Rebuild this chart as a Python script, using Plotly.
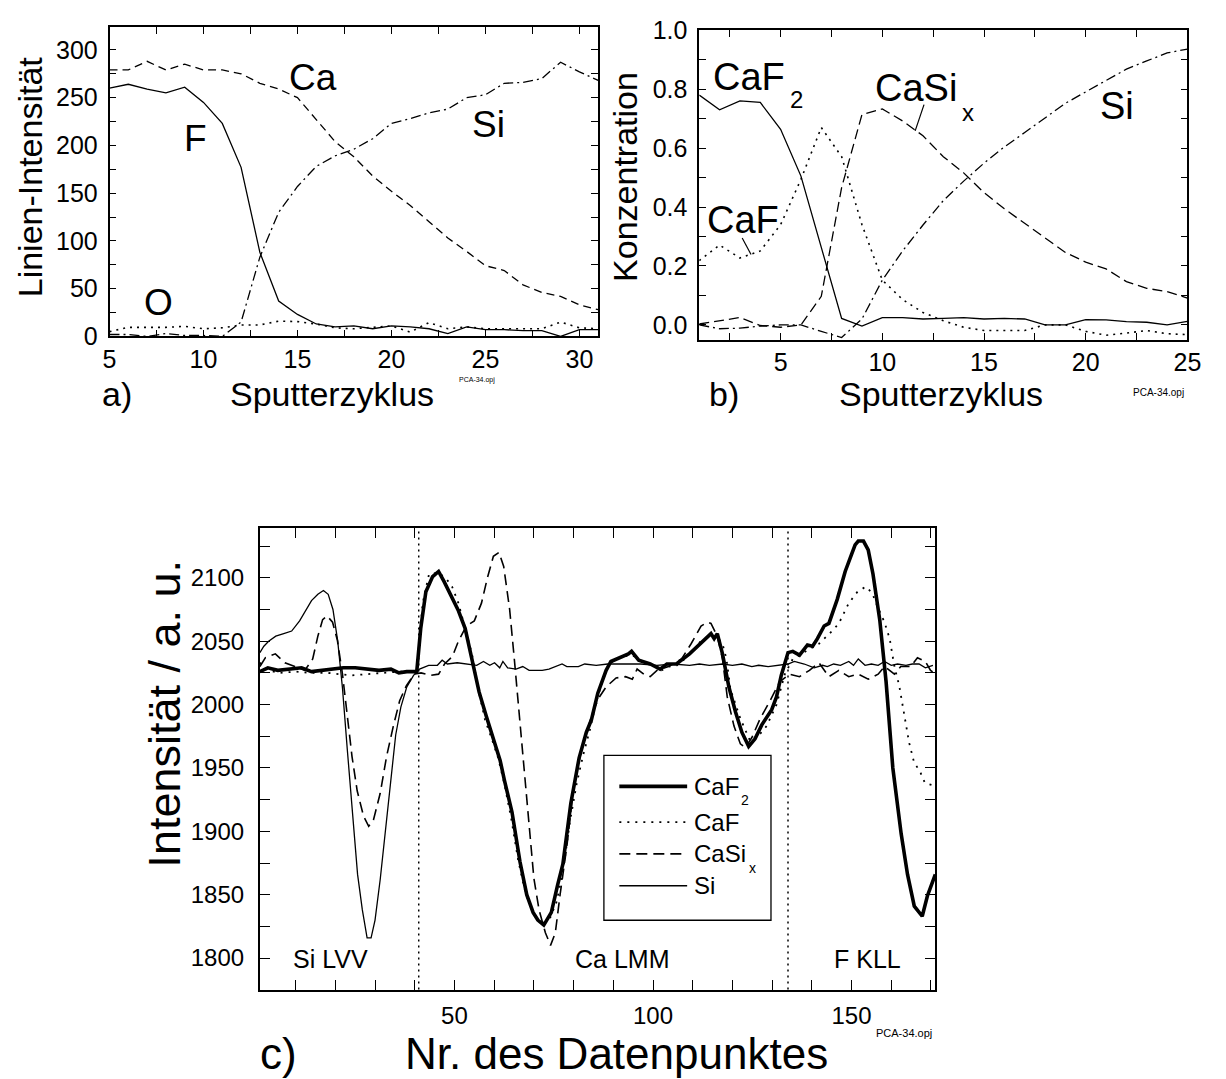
import plotly.graph_objects as go

W, H = 1226, 1079
FONT = "Liberation Sans, Arial, sans-serif"

# ---------------- panel a data ----------------
cycles_a = list(range(5, 32))
a_F = [260, 264, 259, 255, 261, 245, 223, 177, 88, 37, 23, 13, 10, 11, 8, 11, 10, 8, 3, 10, 7, 7, 6, 6, 0, 7, 7]
a_Ca = [279, 279, 288, 279, 285, 279, 279, 275, 265, 259, 250, 227, 204, 188, 168, 152, 137, 120, 103, 89, 74, 69, 54, 46, 42, 33, 28]
a_Si = [2, 2, 0, 3, 1, 1, 0, 15, 83, 130, 157, 178, 189, 196, 207, 223, 228, 234, 238, 250, 253, 265, 266, 270, 287, 277, 268]
a_O = [5, 9.5, 9.5, 9.5, 10.5, 8, 9, 12, 12, 16, 15.5, 13, 9, 8, 9.5, 11, 4.5, 14.5, 8, 10, 8, 8, 8, 8, 15, 9, 8]

# ---------------- panel b data ----------------
cycles_b = list(range(1, 26))
b_CaF2 = [0.78, 0.73, 0.76, 0.755, 0.664, 0.505, 0.263, 0.022, -0.004, 0.025, 0.025, 0.02, 0.022,
          0.025, 0.02, 0.022, 0.02, 0.0, 0.0, 0.018, 0.017, 0.011, 0.009, 0.0, 0.012]
b_CaF = [0.218, 0.271, 0.227, 0.251, 0.34, 0.494, 0.67, 0.571, 0.34, 0.152, 0.086, 0.042, 0.014,
         -0.008, -0.019, -0.019, -0.019, 0.0, 0.0, -0.022, -0.035, -0.028, -0.019, -0.03, -0.033]
b_CaSix = [0.003, 0.014, 0.025, -0.002, -0.008, 0.0, 0.097, 0.466, 0.714, 0.733, 0.692, 0.642, 0.571,
           0.516, 0.449, 0.394, 0.345, 0.295, 0.246, 0.213, 0.19, 0.147, 0.124, 0.113, 0.091]
b_Si = [0.0, -0.013, -0.011, -0.004, 0.0, 0.0, -0.022, -0.043, 0.02, 0.152, 0.251, 0.339, 0.422,
        0.488, 0.549, 0.604, 0.653, 0.703, 0.752, 0.791, 0.829, 0.868, 0.896, 0.923, 0.936]

# ---------------- panel c data ----------------
c_CaF2_x = [1, 3, 5.5, 8, 11.5, 14, 16.5, 20, 22, 25, 28, 31, 34, 36, 38, 40.5,
            41.5, 42.8, 44.5, 46, 47.4, 49.4, 51, 52.7, 54.4, 56.2, 58, 59.8, 61.5, 62.6, 64.5,
            66.5, 68.2, 69.8, 71, 72.5, 74.4, 76, 77.3, 79.3, 81.4, 83.2, 84.5, 86.1, 88.2, 89.4,
            91.9, 93.8, 94.6, 96.4, 99.3, 101.8, 103.5, 105.9, 109.2, 111.7, 113.4, 114.6, 115.4,
            116.2, 117.5, 119.1, 120.8, 122.4, 124.1, 125.7, 127.4, 129.9, 131.1, 132.3, 134,
            135.2, 136.9, 138.9, 140.2, 141.4, 143.1, 144.3, 146.4, 148.4, 149.7, 150.9, 151.7,
            153, 154.2, 155.4, 157.1, 158.7, 160.4, 162.5, 164.1, 165.8, 167.8, 169.1, 171.1]
c_CaF2_y = [2026, 2029, 2027, 2028, 2029, 2026, 2027, 2028, 2029, 2029, 2028, 2027, 2028, 2025, 2026, 2026,
            2060, 2089, 2101, 2105, 2097, 2085, 2074, 2060, 2036, 2010, 1991, 1974, 1956, 1940, 1915,
            1876, 1850, 1836, 1830, 1826, 1836, 1858, 1874, 1922, 1958, 1978, 1988, 2009, 2027, 2034,
            2037, 2040, 2042, 2035, 2032, 2028, 2032, 2032, 2040, 2047, 2052, 2056, 2052,
            2056, 2040, 2014, 1994, 1978, 1967, 1973, 1984, 1996, 2006, 2023, 2041,
            2042, 2039, 2047, 2046, 2052, 2062, 2064, 2083, 2105, 2116, 2126, 2129,
            2129, 2122, 2103, 2067, 2018, 1950, 1898, 1866, 1841, 1833, 1849, 1866]

c_CaF_x = [1, 3, 6, 10, 14, 18, 21, 24, 28, 32, 36, 40.5,
           42, 43.6, 46, 48, 49.4, 51, 52.5, 54.4, 56, 57.7, 59.5, 61, 62.6, 64.3, 66, 67.6, 69.2,
           70.9, 72.5, 74, 75.8, 77.5, 79.1, 80.8, 82.4, 84.1, 85.7, 87.4, 89, 90.7, 92.3, 94.8,
           97.3, 99.7, 102.2, 104, 106, 108, 110.5, 112, 114, 116, 117.5, 118.5, 119.5, 122,
           124.5, 127, 128.6, 131.1, 133.2, 135.2, 138.5, 141.8, 145.1, 146.8, 149.3, 151.5,
           153.6, 155.2, 156.7, 158.3, 159.6, 160.8, 162, 163.3, 164.5, 165.7, 167.4, 168.5, 170.8]
c_CaF_y = [2033, 2027, 2025, 2026, 2025, 2025, 2024, 2023, 2024, 2025, 2026, 2026,
           2080, 2103, 2104, 2099, 2093, 2080, 2062, 2040, 2012, 1988, 1972, 1958, 1937, 1910, 1878, 1855, 1840,
           1830, 1828, 1831, 1845, 1872, 1908, 1938, 1960, 1980, 2002, 2020, 2032, 2036, 2038, 2039,
           2034, 2031, 2027, 2030, 2031, 2036, 2044, 2050, 2054, 2054, 2048, 2036, 2012, 1989,
           1971, 1977, 1983, 2000, 2024, 2036, 2042, 2048, 2058, 2064, 2080, 2089,
           2093, 2088, 2076, 2065, 2052, 2030, 2015, 1990, 1970, 1955, 1946, 1938, 1936]

c_CaSix_x = [1, 2.4, 4.9, 7.3, 9.8, 12.3, 14.3, 15.6, 16.8, 17.9, 19.3, 20.5, 21.8, 23, 24.2, 25.5,
             27.1, 28.4, 29.6, 31.3, 32.9, 34.6, 36.2, 37.9, 39.9, 41.6, 44, 46, 47.5, 49.5, 51, 53,
             55, 56.8, 58.3, 59.8, 61.2, 62.4, 63.9, 65.1, 66.3, 67.6, 68.8, 70, 71.3, 72.9, 74.2,
             75.4, 76.6, 78.3, 79.9, 81.6, 83.2, 84.9, 86.5, 88.2, 90.7, 93.1, 94.8, 96, 97.7, 99.3,
             101, 103.9, 107.2, 109.6, 112.1, 113.8, 114.6, 116.2, 117.5, 118.7, 120.4, 122, 123.3,
             124.9, 127, 129.5, 131.9, 134.4, 136.9, 139.4, 141.8, 144.3, 146.8, 149.3, 151.7,
             154.2, 156.7, 158.3, 160.8, 162.4, 164.9, 166.6, 168.6, 169.9, 171.1]
c_CaSix_y = [2030, 2037, 2040, 2033, 2030, 2027, 2036, 2054, 2067, 2070, 2065, 2051, 2024, 1992, 1959, 1932,
             1912, 1904, 1909, 1930, 1959, 1983, 2003, 2015, 2024, 2025, 2023, 2024, 2032, 2038, 2050, 2062,
             2066, 2080, 2100, 2117, 2120, 2109, 2075, 2035, 1993, 1946, 1901, 1863, 1838, 1820, 1810,
             1820, 1850, 1888, 1932, 1959, 1977, 1995, 2006, 2014, 2021, 2022, 2020, 2028, 2024, 2022,
             2027, 2030, 2036, 2048, 2062, 2065, 2064, 2054, 2036, 2006, 1983, 1969, 1966,
             1974, 1989, 2003, 2018, 2024, 2022, 2027, 2033, 2022, 2027, 2022, 2024,
             2020, 2024, 2030, 2024, 2030, 2030, 2037, 2034, 2027, 2024]

c_Si_x = [1, 2, 3.2, 5, 7, 9, 11, 12.5, 14, 15.6, 17, 18.2, 19.4, 20.6, 21.8, 23, 24.3, 25.6, 26.8,
          28, 29, 30, 31.3, 32.7, 34, 35.2, 36.5, 38, 39.7, 41.2, 43.5, 45.7, 46.9, 48.2, 50.7, 53.1,
          55.6, 57.3, 58.9, 60.1, 61.4, 62.2, 63.4, 65.5, 67.2, 68.8, 72.1, 73.8, 76.2, 77.1, 78.3,
          81.2, 82.8, 85.7, 88.6, 92.7, 96.9, 101, 105.1, 109.2, 111.7, 114.2, 117.5, 120, 122.4,
          124.9, 126.6, 129, 131.5, 134, 135.6, 138.1, 140.6, 142.7, 143.9, 145.5, 147.2, 149.3,
          150.5, 151.7, 153.4, 155, 156.7, 158.3, 160, 161.6, 163.7, 165.3, 167, 168.6, 170.5]
c_Si_y = [2041, 2046, 2050, 2054, 2056, 2058, 2066, 2074, 2082, 2087, 2090, 2087, 2075, 2050, 2013, 1965,
          1912, 1866, 1838, 1816, 1816, 1830, 1862, 1905, 1945, 1976, 1998, 2014, 2023, 2028, 2031,
          2031, 2035, 2032, 2033, 2032, 2031, 2034, 2031, 2033, 2029, 2034, 2029, 2028, 2030, 2027,
          2027, 2028, 2031, 2032, 2030, 2030, 2032, 2031, 2032, 2032, 2032, 2031, 2032, 2031, 2032,
          2031, 2032, 2031, 2032, 2030, 2031, 2030, 2031, 2032, 2034, 2032, 2029, 2031, 2030, 2032,
          2031, 2034, 2031, 2036, 2031, 2032, 2031, 2034, 2031, 2032, 2031, 2032, 2032, 2029, 2031]

region_bounds = [41, 134]


def px(x):
    return x / W


def py(y):
    return 1 - y / H


fig = go.Figure()

thin = 1.3
# panel a
fig.add_trace(go.Scatter(x=cycles_a, y=a_F, mode="lines", line=dict(color="black", width=thin),
                         xaxis="x", yaxis="y", showlegend=False))
fig.add_trace(go.Scatter(x=cycles_a, y=a_Ca, mode="lines", line=dict(color="black", width=thin, dash="8px,5px"),
                         xaxis="x", yaxis="y", showlegend=False))
fig.add_trace(go.Scatter(x=cycles_a, y=a_Si, mode="lines",
                         line=dict(color="black", width=thin, dash="10px,4px,2px,4px"),
                         xaxis="x", yaxis="y", showlegend=False))
fig.add_trace(go.Scatter(x=cycles_a, y=a_O, mode="lines", line=dict(color="black", width=1.6, dash="2px,5px"),
                         xaxis="x", yaxis="y", showlegend=False))
# panel b
fig.add_trace(go.Scatter(x=cycles_b, y=b_CaF2, mode="lines", line=dict(color="black", width=thin),
                         xaxis="x2", yaxis="y2", showlegend=False))
fig.add_trace(go.Scatter(x=cycles_b, y=b_CaF, mode="lines", line=dict(color="black", width=1.6, dash="2px,5px"),
                         xaxis="x2", yaxis="y2", showlegend=False))
fig.add_trace(go.Scatter(x=cycles_b, y=b_CaSix, mode="lines",
                         line=dict(color="black", width=thin, dash="10px,5px"),
                         xaxis="x2", yaxis="y2", showlegend=False))
fig.add_trace(go.Scatter(x=cycles_b, y=b_Si, mode="lines",
                         line=dict(color="black", width=thin, dash="10px,4px,2px,4px"),
                         xaxis="x2", yaxis="y2", showlegend=False))
# panel c
fig.add_trace(go.Scatter(x=c_Si_x, y=c_Si_y, mode="lines", line=dict(color="black", width=1.3),
                         xaxis="x3", yaxis="y3", showlegend=False))
fig.add_trace(go.Scatter(x=c_CaSix_x, y=c_CaSix_y, mode="lines",
                         line=dict(color="black", width=1.6, dash="11px,6px"),
                         xaxis="x3", yaxis="y3", showlegend=False))
fig.add_trace(go.Scatter(x=c_CaF_x, y=c_CaF_y, mode="lines",
                         line=dict(color="black", width=1.8, dash="2px,6px"),
                         xaxis="x3", yaxis="y3", showlegend=False))
fig.add_trace(go.Scatter(x=c_CaF2_x, y=c_CaF2_y, mode="lines", line=dict(color="black", width=3.6),
                         xaxis="x3", yaxis="y3", showlegend=False))


def axis(domain, rng, dtick, minor, anchor, size, lw, tlen, fmt=None, tick0=0, standoff=None):
    d = dict(domain=domain, range=rng, tick0=tick0, dtick=dtick, ticks="inside", ticklen=tlen,
             tickwidth=1.3, tickcolor="black", mirror="allticks", showline=True, linewidth=lw,
             linecolor="black", showgrid=False, zeroline=False, anchor=anchor,
             tickfont=dict(family=FONT, size=size, color="black"),
             minor=dict(dtick=minor, ticks="inside", ticklen=tlen, tickwidth=1.3, tickcolor="black",
                        showgrid=False))
    if fmt:
        d["tickformat"] = fmt
    if standoff is not None:
        d["ticklabelstandoff"] = standoff
    return d


layout = dict(
    width=W, height=H, margin=dict(l=0, r=0, t=0, b=0),
    paper_bgcolor="white", plot_bgcolor="white", showlegend=False,
    font=dict(family=FONT, color="black"),
    xaxis=axis([px(104.3), px(601.5)], [5, 31], 5, 2.5, "y", 25, 1.5, 7, tick0=5, standoff=0),
    yaxis=axis([py(331), py(13.3)], [0, 324], 50, 25, "x", 25, 1.5, 7, standoff=5),
    xaxis2=axis([px(704.3), px(1201)], [1, 25], 5, 2.5, "y2", 25, 1.5, 7, tick0=0, standoff=0),
    yaxis2=axis([py(334.3), py(16.7)], [-0.05, 1.0], 0.2, 0.1, "x2", 25, 1.5, 7, fmt=".1f", standoff=5),
    xaxis3=axis([px(257.3), px(944.5)], [1, 171.1], 50, 10, "y3", 24, 2, 10, standoff=4),
    yaxis3=axis([py(1001.5), py(527.7)], [1775.2, 2139.3], 50, 25, "x3", 24, 2, 10, standoff=9),
)
fig.update_layout(**layout)

annotations = []


def ann(text, x, y, size, xanchor="center", yanchor="middle", angle=0):
    annotations.append(dict(text=text, x=px(x), y=py(y), xref="paper", yref="paper", showarrow=False,
                            xanchor=xanchor, yanchor=yanchor, textangle=angle,
                            font=dict(family=FONT, size=size, color="black")))


# panel a texts
ann("Linien-Intensität", 23, 167, 34, angle=-90)
ann("Sputterzyklus", 331, 390, 34)
ann("a)", 112, 390, 34)
ann("PCA-34.opj", 478, 376, 7)
ann("Ca", 311, 65, 37)
ann("F", 192, 128, 37)
ann("Si", 490, 113, 37)
ann("O", 154, 296, 37)

# panel b texts
ann("Konzentration", 628, 167, 34, angle=-90)
ann("Sputterzyklus", 950, 390, 34)
ann("b)", 730, 390, 34)
ann("PCA-34.opj", 1172, 389, 10)
ann("CaF", 716, 65, 38, xanchor="left")
ann("2", 795, 88, 24, xanchor="left")
ann("CaSi", 881, 76, 38, xanchor="left")
ann("x", 970, 101, 24, xanchor="left")
ann("Si", 1110, 94, 38, xanchor="left")
ann("CaF", 710, 212, 38, xanchor="left")

# panel c texts
ann("Intensität / a. u.", 160, 718, 45, angle=-90)
ann("Nr. des Datenpunktes", 620, 1067, 44)
ann("c)", 276, 1067, 44)
ann("PCA-34.opj", 913, 1046, 11)
ann("Si LVV", 329, 970, 25)
ann("Ca LMM", 626, 970, 25)
ann("F KLL", 875, 970, 25)

# legend texts
leg_rows = [793, 829.6, 862.3, 895]
ann("CaF", 697, leg_rows[0], 24, xanchor="left")
ann("2", 745, leg_rows[0] + 14, 14, xanchor="left")
ann("CaF", 697, leg_rows[1], 24, xanchor="left")
ann("CaSi", 697, leg_rows[2], 24, xanchor="left")
ann("x", 753, leg_rows[2] + 14, 14, xanchor="left")
ann("Si", 697, leg_rows[3], 24, xanchor="left")

shapes = []
# region separators in panel c
for xb in region_bounds:
    shapes.append(dict(type="line", xref="x3", yref="y3 domain", x0=xb, x1=xb, y0=0, y1=1,
                       line=dict(color="black", width=1.5, dash="2px,4px")))
# leader lines in panel b
shapes.append(dict(type="line", xref="paper", yref="paper", x0=px(748), y0=py(230), x1=px(757), y1=py(247),
                   line=dict(color="black", width=1.2)))
shapes.append(dict(type="line", xref="paper", yref="paper", x0=px(933), y0=py(93), x1=px(924), y1=py(120),
                   line=dict(color="black", width=1.2)))
# legend box
shapes.append(dict(type="rect", xref="paper", yref="paper", x0=px(607.3), y0=py(930.4), x1=px(777.3),
                   y1=py(761.2), line=dict(color="black", width=1.3), fillcolor="rgba(0,0,0,0)"))
leg_styles = [dict(width=3.6), dict(width=1.8, dash="2px,6px"), dict(width=1.6, dash="11px,6px"), dict(width=1.3)]
for yy, st in zip(leg_rows, leg_styles):
    shapes.append(dict(type="line", xref="paper", yref="paper", x0=px(623), x1=px(692), y0=py(yy), y1=py(yy),
                       line=dict(color="black", **st)))

fig.update_layout(annotations=annotations, shapes=shapes)
fig.write_html("out.html")
